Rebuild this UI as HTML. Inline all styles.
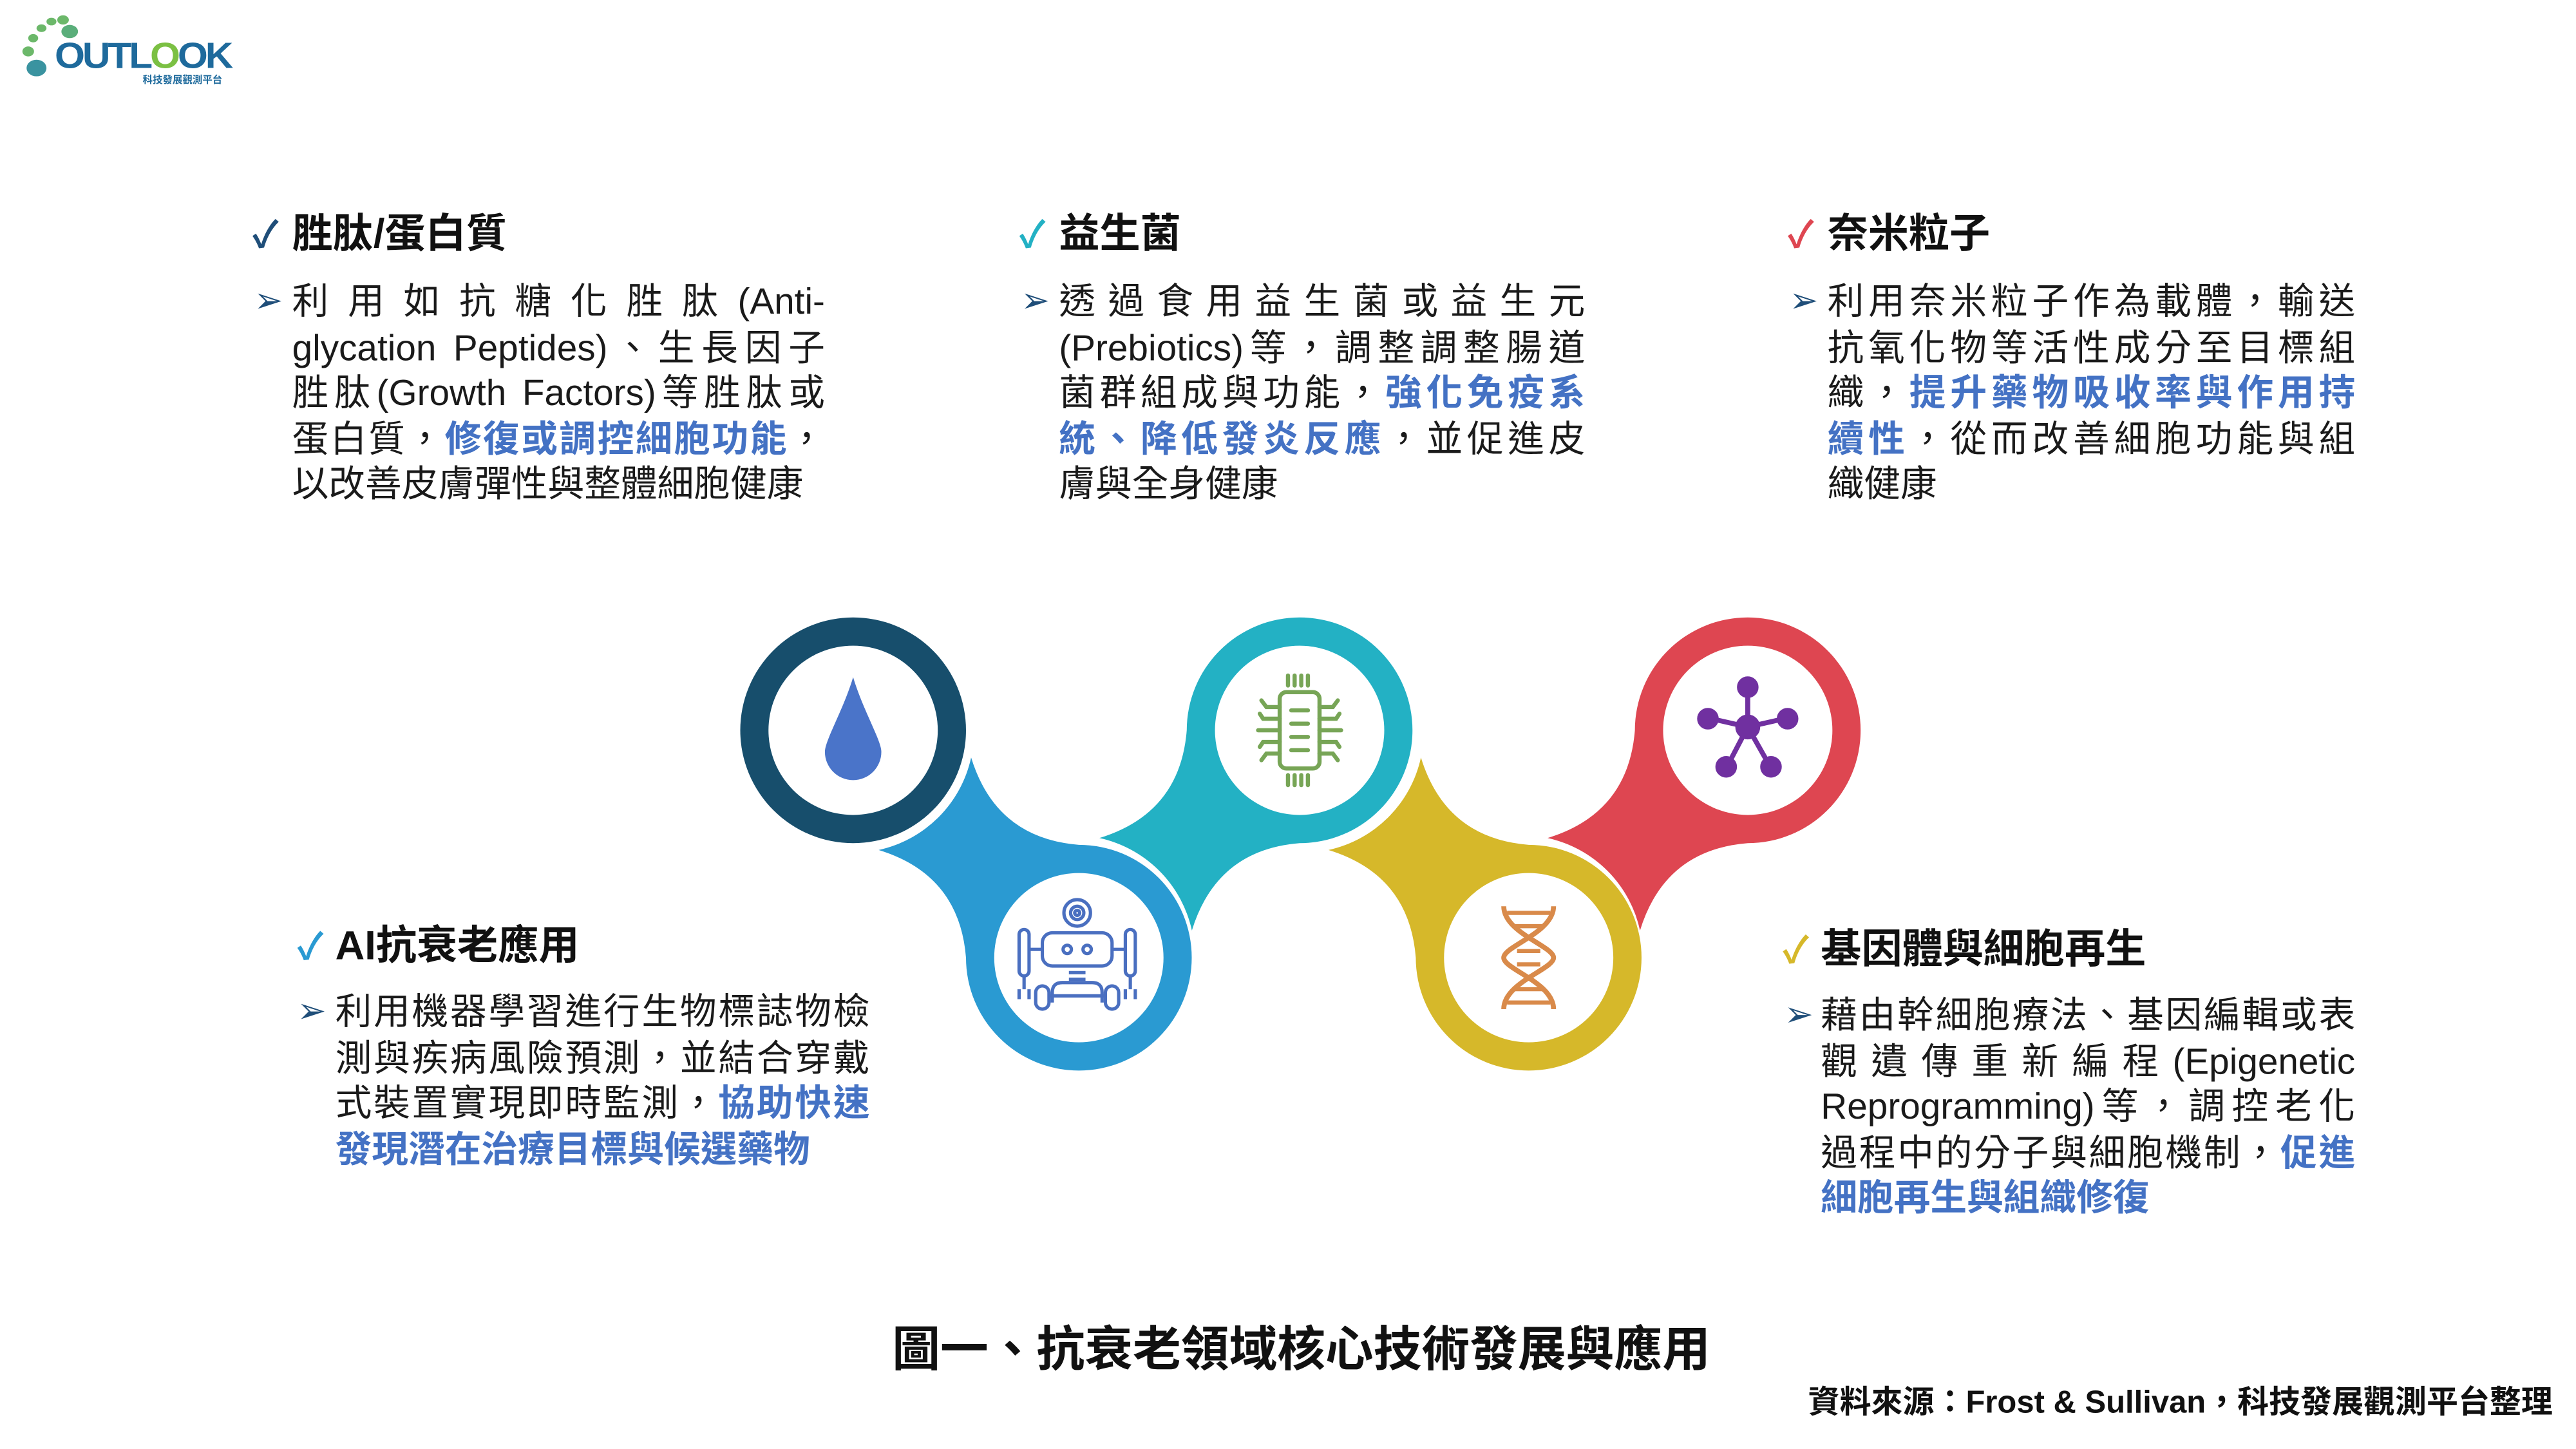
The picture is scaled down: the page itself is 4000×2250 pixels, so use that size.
<!DOCTYPE html>
<html><head><meta charset="utf-8">
<style>
html,body{margin:0;padding:0;background:#fff;}
body{width:4000px;height:2250px;overflow:hidden;position:relative;}
#c{position:absolute;left:0;top:0;width:1552px;height:873px;transform:scale(2.5773);transform-origin:0 0;font-family:"Liberation Sans","Noto Sans CJK TC",sans-serif;color:#1a1a1a;}
.t{position:absolute;font-size:24.5px;font-weight:bold;line-height:30px;white-space:nowrap;color:#111;}
.ck{position:absolute;font-size:22px;line-height:30px;font-weight:bold;}
.b{position:absolute;font-size:22px;line-height:27.5px;}
.b div{text-align:justify;text-align-last:justify;white-space:nowrap;height:27.5px;}
.b div.l{text-align-last:left;}
.ar{position:absolute;font-size:21px;color:#1f4e79;line-height:27.5px;}
.h{color:#4472c4;font-weight:bold;}
</style></head><body><div id="c">

<!-- logo -->
<svg style="position:absolute;left:0;top:0" width="160" height="60" viewBox="0 0 160 60">
<g fill="#6cb86a">
<ellipse cx="22" cy="41" rx="6" ry="5" fill="#3a93a0"/>
<ellipse cx="17" cy="31" rx="3.5" ry="3"/>
<ellipse cx="20" cy="23" rx="3" ry="2.5"/>
<ellipse cx="25" cy="17" rx="3" ry="2.3"/>
<ellipse cx="31" cy="13" rx="3" ry="2.3"/>
<ellipse cx="38" cy="12" rx="3.5" ry="2.8"/>
<ellipse cx="42" cy="19" rx="5" ry="4" fill="#5aae7a"/>
</g>
<text x="33" y="41" font-family="Liberation Sans" font-weight="bold" font-size="22" fill="#1e6a9c" letter-spacing="-1.5" textLength="106" lengthAdjust="spacingAndGlyphs">OUTL<tspan fill="#7bc043">O</tspan>OK</text>
<text x="86" y="50" font-family="Noto Sans CJK TC" font-weight="bold" font-size="6" fill="#1e6a9c">科技發展觀測平台</text>
</svg>

<!-- block 1 -->
<div class="ck" style="left:152px;top:127px;color:#1f4e79">✓</div>
<div class="t" style="left:176px;top:127px">胜肽/蛋白質</div>
<div class="ar" style="left:153px;top:168px">➢</div>
<div class="b" style="left:176px;top:168px;width:321px">
<div>利用如抗糖化胜肽(Anti-</div>
<div>glycation Peptides)、生長因子</div>
<div>胜肽(Growth Factors)等胜肽或</div>
<div>蛋白質，<span class="h">修復或調控細胞功能</span>，</div>
<div class="l">以改善皮膚彈性與整體細胞健康</div>
</div>

<!-- block 2 -->
<div class="ck" style="left:614px;top:127px;color:#23b1c4">✓</div>
<div class="t" style="left:638px;top:127px">益生菌</div>
<div class="ar" style="left:615px;top:168px">➢</div>
<div class="b" style="left:638px;top:168px;width:317px">
<div>透過食用益生菌或益生元</div>
<div>(Prebiotics)等，調整調整腸道</div>
<div>菌群組成與功能，<span class="h">強化免疫系</span></div>
<div><span class="h">統、降低發炎反應</span>，並促進皮</div>
<div class="l">膚與全身健康</div>
</div>

<!-- block 3 -->
<div class="ck" style="left:1077px;top:127px;color:#de4651">✓</div>
<div class="t" style="left:1101px;top:127px">奈米粒子</div>
<div class="ar" style="left:1078px;top:168px">➢</div>
<div class="b" style="left:1101px;top:168px;width:318px">
<div>利用奈米粒子作為載體，輸送</div>
<div>抗氧化物等活性成分至目標組</div>
<div>織，<span class="h">提升藥物吸收率與作用持</span></div>
<div><span class="h">續性</span>，從而改善細胞功能與組</div>
<div class="l">織健康</div>
</div>

<!-- block 4 -->
<div class="ck" style="left:179px;top:556px;color:#2a9ad2">✓</div>
<div class="t" style="left:202px;top:556px">AI抗衰老應用</div>
<div class="ar" style="left:179px;top:596px">➢</div>
<div class="b" style="left:202px;top:596px;width:322px">
<div>利用機器學習進行生物標誌物檢</div>
<div>測與疾病風險預測，並結合穿戴</div>
<div>式裝置實現即時監測，<span class="h">協助快速</span></div>
<div class="l"><span class="h">發現潛在治療目標與候選藥物</span></div>
</div>

<!-- block 5 -->
<div class="ck" style="left:1074px;top:558px;color:#d6b82a">✓</div>
<div class="t" style="left:1097px;top:558px">基因體與細胞再生</div>
<div class="ar" style="left:1075px;top:598px">➢</div>
<div class="b" style="left:1097px;top:598px;width:322px">
<div>藉由幹細胞療法、基因編輯或表</div>
<div>觀遺傳重新編程(Epigenetic</div>
<div>Reprogramming)等，調控老化</div>
<div>過程中的分子與細胞機制，<span class="h">促進</span></div>
<div class="l"><span class="h">細胞再生與組織修復</span></div>
</div>

<div style="position:absolute;left:0;width:1568px;top:796px;text-align:center;font-size:29px;font-weight:bold;line-height:36px;color:#111">圖一、抗衰老領域核心技術發展與應用</div>
<div style="position:absolute;right:14px;top:834px;font-size:19px;font-weight:bold;line-height:24px;color:#111;white-space:nowrap">資料來源：Frost &amp; Sullivan，科技發展觀測平台整理</div>

<svg style="position:absolute;left:0;top:0" width="1552" height="873" viewBox="0 0 1552 873">
<defs>
<path id="tail" d="M-68,0 A68,68 0 1,0 0,-68 Q-50,-72 -64.9,-120.6 A73,73 0 0,1 -120.6,-64.9 Q-72,-50 -68,0 Z"/>
</defs>
<circle cx="514" cy="440" r="68" fill="#174e6c"/>
<use href="#tail" transform="translate(650,577)" fill="#2a9ad2"/>
<use href="#tail" transform="translate(783,440) scale(1,-1)" fill="#23b1c4"/>
<use href="#tail" transform="translate(921,577)" fill="#d6b82a"/>
<use href="#tail" transform="translate(1053,440) scale(1,-1)" fill="#de4651"/>
<g fill="#fff">
<circle cx="514" cy="440" r="51"/>
<circle cx="650" cy="577" r="51"/>
<circle cx="783" cy="440" r="51"/>
<circle cx="921" cy="577" r="51"/>
<circle cx="1053" cy="440" r="51"/>
</g>
<path d="M514,408 C508,428 497,446 497,453 A17,17 0 0 0 531,453 C531,446 520,428 514,408Z" fill="#4a74c9"/>
<g stroke="#77a556" stroke-width="2.5" fill="none" stroke-linecap="round">
<rect x="771" y="417" width="24" height="46" rx="4"/>
<line x1="778" y1="428" x2="788" y2="428"/><line x1="778" y1="436" x2="788" y2="436"/><line x1="778" y1="444" x2="788" y2="444"/><line x1="778" y1="452" x2="788" y2="452"/>
<line x1="776" y1="407" x2="776" y2="413"/><line x1="780" y1="407" x2="780" y2="413"/><line x1="784" y1="407" x2="784" y2="413"/><line x1="788" y1="407" x2="788" y2="413"/>
<line x1="776" y1="467" x2="776" y2="473"/><line x1="780" y1="467" x2="780" y2="473"/><line x1="784" y1="467" x2="784" y2="473"/><line x1="788" y1="467" x2="788" y2="473"/>
<line x1="758" y1="440" x2="771" y2="440"/><line x1="795" y1="440" x2="808" y2="440"/>
<path d="M771,426 L763,426 L760,422 M771,433 L761,433 L759,430 M771,447 L761,447 L759,450 M771,454 L763,454 L760,458"/>
<path d="M795,426 L803,426 L806,422 M795,433 L805,433 L807,430 M795,447 L805,447 L807,450 M795,454 L803,454 L806,458"/>
</g>
<g stroke="#7030a0" stroke-width="3" fill="#7030a0">
<line x1="1053" y1="438" x2="1053" y2="415"/><line x1="1053" y1="438" x2="1031" y2="433"/><line x1="1053" y1="438" x2="1075" y2="433"/><line x1="1053" y1="438" x2="1041" y2="461"/><line x1="1053" y1="438" x2="1066" y2="461"/>
<circle cx="1053" cy="438" r="6"/><circle cx="1053" cy="414" r="5"/><circle cx="1029" cy="433" r="5"/><circle cx="1077" cy="433" r="5"/><circle cx="1040" cy="462" r="5"/><circle cx="1067" cy="462" r="5"/>
</g>
<g stroke="#4a6fc0" stroke-width="2" fill="none">
<circle cx="649" cy="550" r="8"/><circle cx="649" cy="550" r="4"/><circle cx="649" cy="550" r="1.5"/>
<rect x="628" y="562" width="42" height="20" rx="6"/>
<circle cx="643" cy="572" r="2.5"/><circle cx="655" cy="572" r="2.5"/>
<rect x="614" y="560" width="6" height="28" rx="3"/><rect x="678" y="560" width="6" height="28" rx="3"/>
<line x1="620" y1="572" x2="628" y2="572"/><line x1="670" y1="572" x2="678" y2="572"/>
<line x1="644" y1="586" x2="654" y2="586"/><line x1="644" y1="590" x2="654" y2="590"/>
<path d="M634,604 L634,598 Q634,592 640,592 L658,592 Q664,592 664,598 L664,604"/>
<rect x="624" y="594" width="8" height="14" rx="4"/><rect x="666" y="594" width="8" height="14" rx="4"/>
<line x1="632" y1="600" x2="666" y2="600"/>
<path d="M617,588 L617,596 M614,596 L614,602 M620,596 L620,602 M681,588 L681,596 M678,596 L678,602 M684,596 L684,602"/>
</g>
<g stroke="#d98a4a" stroke-width="3" fill="none">
<path d="M906,546 C906,562 936,570 936,577 C936,584 906,592 906,608"/>
<path d="M936,546 C936,562 906,570 906,577 C906,584 936,592 936,608"/>
<g stroke-width="2.5"><line x1="908" y1="550" x2="934" y2="550"/><line x1="912" y1="558" x2="930" y2="558"/><line x1="914" y1="573" x2="928" y2="573"/><line x1="914" y1="581" x2="928" y2="581"/><line x1="912" y1="596" x2="930" y2="596"/><line x1="908" y1="604" x2="934" y2="604"/></g>
</g>
</svg>
</div></body></html>
